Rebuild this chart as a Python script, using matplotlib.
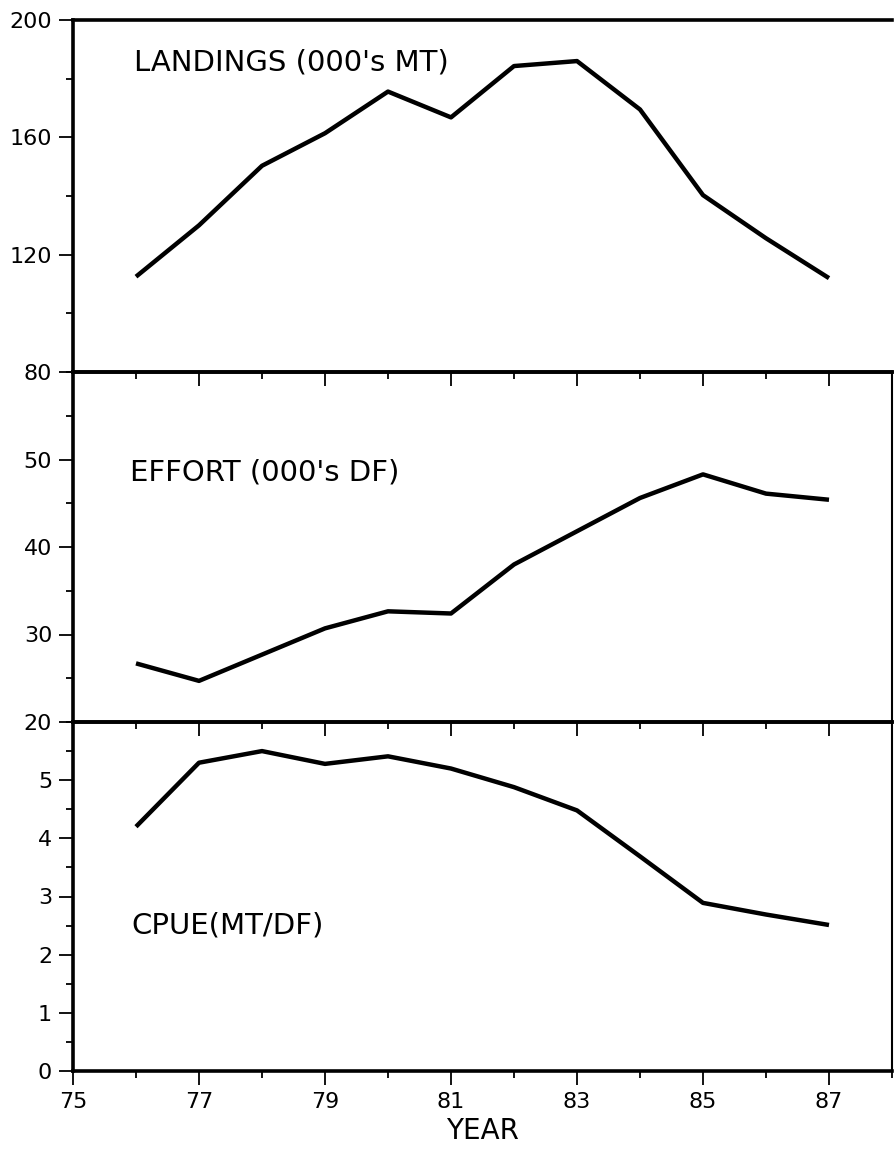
import matplotlib
matplotlib.use("Agg")
import matplotlib.pyplot as plt
from matplotlib.ticker import MultipleLocator, FixedLocator

plt.rcParams['font.family'] = ['DejaVu Sans']

years = [76, 77, 78, 79, 80, 81, 82, 83, 84, 85, 86, 87]
landings = [112.5, 130.0, 150.3, 161.4, 175.6, 166.8, 184.3, 186.0, 169.5, 140.3, 125.6, 112.0]
effort = [26.7, 24.7, 27.7, 30.7, 32.65, 32.4, 38.0, 41.8, 45.6, 48.3, 46.1, 45.4]
cpue = [4.2, 5.3, 5.5, 5.28, 5.41, 5.2, 4.88, 4.48, 3.69, 2.89, 2.69, 2.51]

x_major = [75, 77, 79, 81, 83, 85, 87]
x_minor = [76, 78, 80, 82, 84, 86, 88]
land_ticks = [80, 120, 160, 200]
effort_ticks = [20, 30, 40, 50]
cpue_ticks = [0, 1, 2, 3, 4, 5]

labels = ["LANDINGS (000's MT)", "EFFORT (000's DF)", "CPUE(MT/DF)"]

W, H = 894, 1149
fig = plt.figure(figsize=(W / 100, H / 100), dpi=100)

left = 73 / W
width = (892 - 73) / W

def mk(top_px, bot_px):
    return fig.add_axes([left, (H - bot_px) / H, width, (bot_px - top_px) / H])

ax1 = mk(20, 372)
ax2 = mk(372, 722)
ax3 = mk(722, 1071)

specs = [
    (ax1, landings, (80, 200), land_ticks, 20, labels[0], (0.0745, 0.878)),
    (ax2, effort, (20, 60), effort_ticks, 5, labels[1], (0.0696, 0.714)),
    (ax3, cpue, (0, 6), cpue_ticks, 0.5, labels[2], (0.0714, 0.418)),
]

for i, (ax, data, ylim, yt, ymin_step, lab, pos) in enumerate(specs):
    ax.plot(years, data, color='black', lw=3.2, solid_joinstyle='round',
            solid_capstyle='butt', zorder=3)
    ax.set_xlim(75, 88)
    ax.set_ylim(*ylim)
    ax.xaxis.set_major_locator(FixedLocator(x_major))
    ax.xaxis.set_minor_locator(FixedLocator(x_minor))
    ax.yaxis.set_major_locator(FixedLocator(yt))
    ax.yaxis.set_minor_locator(MultipleLocator(ymin_step))
    ax.tick_params(axis='both', which='major', direction='out', length=10,
                   width=1.3, labelsize=16, color='black', pad=5)
    ax.tick_params(axis='both', which='minor', direction='out', length=5,
                   width=1.3, color='black')
    ax.tick_params(axis='x', which='both', top=False)
    ax.tick_params(axis='y', which='both', right=False)
    if i < 2:
        ax.tick_params(axis='x', which='both', labelbottom=False)
    else:
        ax.set_xticklabels([str(v) for v in x_major])
    for s in ['left', 'bottom', 'top']:
        ax.spines[s].set_linewidth(2.6)
        ax.spines[s].set_color('black')
    ax.spines['right'].set_linewidth(1.5)
    if i == 0:
        ax.spines['right'].set_visible(False)
    ax.text(pos[0], pos[1], lab, transform=ax.transAxes, fontsize=21,
            ha='left', va='center', color='black')
    ax.set_facecolor('none')

ax3.set_xlabel('YEAR', fontsize=20, labelpad=4)

fig.savefig('out.png', dpi=100, facecolor='white')
